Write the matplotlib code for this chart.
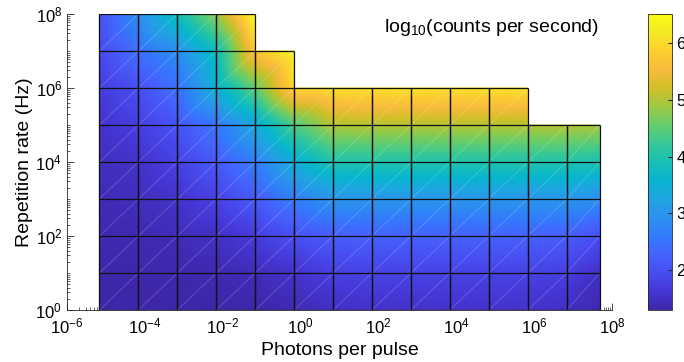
""" Count rate map """
import numpy as np
import matplotlib
matplotlib.use("Agg")
import matplotlib.pyplot as plt
from matplotlib.colors import LinearSegmentedColormap
from matplotlib.tri import Triangulation, UniformTriRefiner, LinearTriInterpolator
from matplotlib.collections import LineCollection
from matplotlib.ticker import FuncFormatter

plt.rcParams["font.family"] = "Liberation Sans"
plt.rcParams["mathtext.fontset"] = "custom"
plt.rcParams["mathtext.rm"] = "Liberation Sans"
plt.rcParams["mathtext.it"] = "Liberation Sans:italic"

# grid nodes
photons = [6.8e-6, 6.8e-5, 6.8e-4, 6.8e-3, 6.8e-2, 0.68, 6.8, 68, 680,
           6.8e3, 6.8e4, 6.8e5, 6.8e6, 4.8e7]
rep_rate = [1e0, 1e1, 1e2, 1e3, 1e4, 1e5, 1e6, 1e7, 1e8]
# highest rep-rate row reached by each photon column
col_top = [8, 8, 8, 8, 7, 6, 6, 6, 6, 6, 6, 5, 5]
nan = np.nan
# log10(counts per second), rows = rep rate (low -> high), cols = photons
log_counts = np.array([
    [1.30, 1.30, 1.31, 1.31, 1.32, 1.38, 1.50, 1.55, 1.55, 1.55, 1.55, 1.55, 1.50, 1.35],
    [1.32, 1.33, 1.34, 1.36, 1.42, 1.55, 1.75, 1.80, 1.80, 1.80, 1.80, 1.80, 1.75, 1.50],
    [1.35, 1.38, 1.42, 1.50, 1.70, 2.00, 2.20, 2.25, 2.25, 2.25, 2.25, 2.25, 2.20, 2.00],
    [1.40, 1.45, 1.55, 1.80, 2.15, 2.65, 3.00, 3.02, 3.02, 3.02, 3.02, 3.02, 3.02, 2.90],
    [1.45, 1.55, 1.80, 2.15, 2.65, 3.45, 4.00, 4.02, 4.02, 4.02, 4.02, 4.02, 4.02, 3.95],
    [1.55, 1.75, 2.05, 2.55, 3.35, 4.40, 5.00, 5.02, 5.02, 5.02, 5.02, 5.02, 5.02, 4.95],
    [1.70, 2.00, 2.45, 3.50, 4.55, 5.95, 6.05, 6.08, 6.08, 6.08, 6.08, 6.08, nan, nan],
    [1.90, 2.45, 2.90, 3.80, 5.75, 6.35, nan, nan, nan, nan, nan, nan, nan, nan],
    [2.05, 2.90, 3.85, 4.85, 6.45, nan, nan, nan, nan, nan, nan, nan, nan, nan],
])
clim = (1.30, 6.51)
cbar_ticks = [2, 3, 4, 5, 6]

# MATLAB parula, every 4th entry
parula = LinearSegmentedColormap.from_list("parula", [
    (0.2422, 0.1504, 0.6603), (0.2706, 0.2147, 0.8364), (0.2813, 0.3006, 0.9414),
    (0.2699, 0.3892, 0.9906), (0.1963, 0.4847, 0.9892), (0.1687, 0.5703, 0.9359),
    (0.1248, 0.6459, 0.8883), (0.0297, 0.7082, 0.8163), (0.0964, 0.7500, 0.7120),
    (0.2161, 0.7843, 0.5923), (0.3909, 0.8029, 0.4354), (0.6174, 0.7876, 0.2612),
    (0.8203, 0.7498, 0.1535), (0.9728, 0.7298, 0.2394), (0.9892, 0.8136, 0.1885),
    (0.9597, 0.9135, 0.1423), (0.9769, 0.9839, 0.0805)], N=256)

# work in decades so the shading is linear in log space
lx = np.log10(photons)
ly = np.log10(rep_rate)
nc = len(lx)
X, Y = np.meshgrid(lx, ly)
tris, edges, diags = [], [], []
for j, top in enumerate(col_top):
    x0, x1 = lx[j], lx[j + 1]
    edges.append([(x0, ly[0]), (x0, ly[top])])
    edges.append([(x1, ly[0]), (x1, ly[top])])
    for i in range(top + 1):
        edges.append([(x0, ly[i]), (x1, ly[i])])
    for i in range(top):
        a, b = i * nc + j, i * nc + j + 1
        c, d = (i + 1) * nc + j + 1, (i + 1) * nc + j
        tris += [[a, b, c], [a, c, d]]
        diags.append([(x0, ly[i]), (x1, ly[i + 1])])

fig = plt.figure(figsize=(6.84, 3.62), dpi=100)
ax = fig.add_axes([0.098, 0.1436, 0.797, 0.8177])
tri = Triangulation(X.ravel(), Y.ravel(), tris)
z = np.nan_to_num(log_counts.ravel(), nan=clim[0])
# refine so colours follow the colormap inside each triangle (like MATLAB interp)
fine_tri, fine_z = UniformTriRefiner(tri).refine_field(
    z, triinterpolator=LinearTriInterpolator(tri, z), subdiv=4)
mesh = ax.tripcolor(fine_tri, fine_z, shading="gouraud", cmap=parula,
                    vmin=clim[0], vmax=clim[1])
ax.add_collection(LineCollection(diags, colors="white", linewidths=0.5, alpha=0.25))
ax.add_collection(LineCollection(edges, colors="#111111", linewidths=0.9))

ax.set_xlim(-6, 8)
ax.set_ylim(0, 8)
decade = FuncFormatter(lambda v, pos: r"$\mathregular{10^{%d}}$" % round(v))
ax.set_xticks(range(-6, 9, 2))
ax.set_yticks(range(0, 9, 2))
ax.xaxis.set_major_formatter(decade)
ax.yaxis.set_major_formatter(decade)
minor_x = [k + np.log10(m) for k in range(-6, 8) for m in range(1, 10)]
minor_y = [k + np.log10(m) for k in range(0, 8) for m in range(1, 10)]
ax.set_xticks(minor_x, minor=True)
ax.set_yticks(minor_y, minor=True)
ax.set_axisbelow(True)
ax.tick_params(which="both", direction="in", top=False, right=False,
               labelsize=12, color="#262626")
ax.tick_params(which="major", length=5, width=0.6)
ax.tick_params(which="minor", length=2.5, width=0.5)
ax.tick_params(axis="x", which="major", pad=5)
for side in ["top", "right"]:
    ax.spines[side].set_visible(False)
for side in ["left", "bottom"]:
    ax.spines[side].set_color("#262626")
    ax.spines[side].set_linewidth(0.6)

ax.set_xlabel("Photons per pulse", fontsize=14, labelpad=4)
ax.set_ylabel("Repetition rate (Hz)", fontsize=14, labelpad=2)
ax.text(0.778, 0.955, r"$\mathregular{log_{10}}$(counts per second)",
        transform=ax.transAxes, ha="center", va="center", fontsize=14)

cax = fig.add_axes([0.947, 0.1436, 0.035, 0.8177])
cb = fig.colorbar(mesh, cax=cax, ticks=cbar_ticks)
cb.outline.set_edgecolor("#262626")
cb.outline.set_linewidth(0.6)
cax.tick_params(direction="in", length=3, labelsize=12, color="#262626")

fig.savefig("out.png", dpi=100)
